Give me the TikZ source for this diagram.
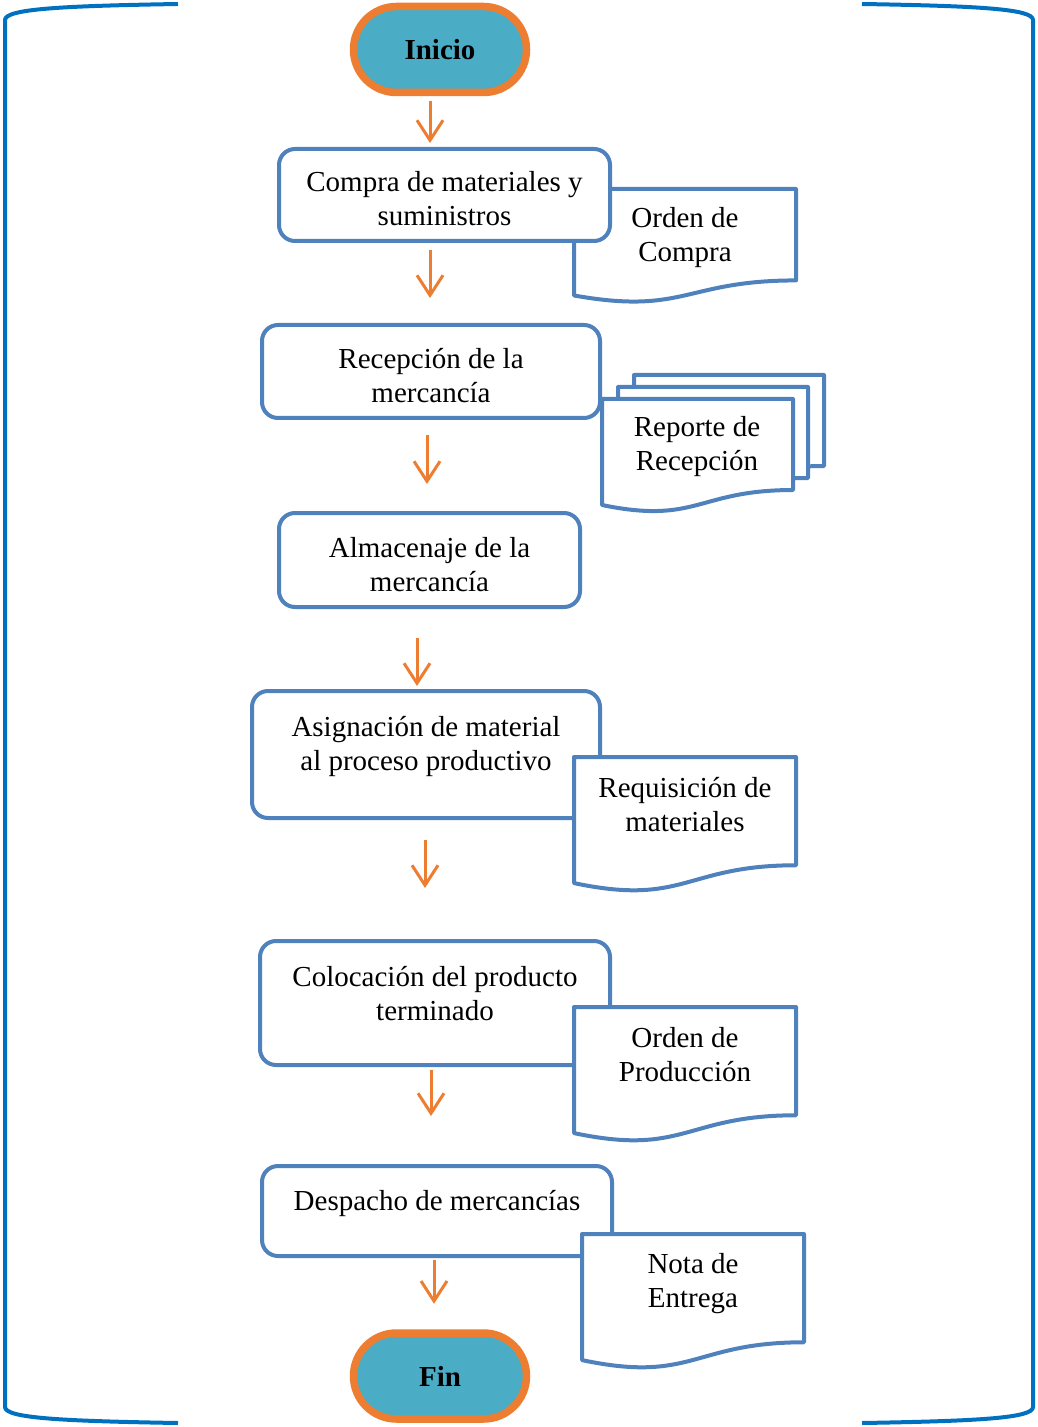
\documentclass[tikz,border=0pt]{standalone}
\usepackage{fontspec}
\setmainfont{Liberation Serif}
\usetikzlibrary{arrows.meta,calc,shadows}
\definecolor{LineClr}{HTML}{4F81BD}
\definecolor{ArrowClr}{HTML}{ED7D31}
\definecolor{TermClr}{HTML}{4BACC6}
\definecolor{BraceClr}{HTML}{0070C0}

% document symbol: left, top, width, height
\newcommand{\documento}[4]{%
  \filldraw[docline] (#1,#2) -- ({#1+#3},#2) -- ({#1+#3},{#2+0.802*#4})
    .. controls ({#1+0.5*#3},{#2+0.802*#4}) and ({#1+0.5*#3},{#2+1.1075*#4}) .. (#1,{#2+0.934*#4}) -- cycle;}

\begin{document}
\begin{tikzpicture}[x=0.5pt,y=-0.5pt,
  every node/.style={font=\fontsize{14.5}{17}\selectfont,align=center},
  proceso/.style={draw=LineClr,line width=2pt,fill=white,rounded corners=8pt},
  terminal/.style={draw=ArrowClr,line width=3.75pt,fill=TermClr,rounded corners=21.5pt,
    minimum width=86.5pt,minimum height=43pt,font=\fontsize{14.5}{17}\selectfont\bfseries,
    drop shadow={opacity=0.2,shadow xshift=1pt,shadow yshift=-1.5pt}},
  docline/.style={draw=LineClr,line width=2pt,fill=white,line join=round},
  flecha/.style={draw=ArrowClr,line width=1.5pt,-{Straight Barb[length=10pt,width=13pt,line width=1.5pt]}},
  llave/.style={draw=BraceClr,line width=2pt}]
\useasboundingbox (0,0) rectangle (1037,1427);

% brackets
\draw[llave] (178,4) .. controls (60,6) and (5,9) .. (5,20) -- (5,1407)
  .. controls (5,1418) and (60,1421) .. (178,1423);
\draw[llave] (862,4) .. controls (980,6) and (1033,9) .. (1033,20) -- (1033,1407)
  .. controls (1033,1418) and (980,1421) .. (862,1423);

\node[terminal] (inicio) at (440,49.5) {Inicio};
\node[terminal] (fin) at (440,1376) {Fin};

% compra
\documento{574}{189}{222}{114}
\node[proceso,minimum width=165.5pt,minimum height=46pt,text height=31pt,text depth=0pt] (compra) at (444.5,195) {Compra de materiales y\\suministros};
\node (ordenc) at (685,238) {Orden de\\Compra};

% recepcion
\node[proceso,minimum width=169pt,minimum height=46.5pt,text height=31pt,text depth=0pt] (recep) at (431,371.5) {Recepción de la\\mercancía};
\documento{634}{375}{190}{113.5}
\documento{618}{387}{190}{113.5}
\documento{602}{399}{191}{113.5}
\node (reporte) at (697,447) {Reporte de\\Recepción};

% almacenaje
\node[proceso,minimum width=150.5pt,minimum height=47pt,text height=31pt,text depth=0pt] (almac) at (429.5,560) {Almacenaje de la\\mercancía};

% asignacion
\node[proceso,minimum width=174pt,minimum height=63.5pt,text depth=11.5pt] (asign) at (426,754.5) {Asignación de material\\al proceso productivo};
\documento{574}{757}{222}{135}
\node (requis) at (685,805) {Requisición de\\materiales};

% colocacion
\node[proceso,minimum width=175pt,minimum height=62pt,text depth=10pt] (coloc) at (435,1003) {Colocación del producto\\terminado};
\documento{574}{1007}{222}{135}
\node (ordenp) at (685,1055) {Orden de\\Producción};

% despacho
\node[proceso,minimum width=175pt,minimum height=45pt,text depth=11pt] (desp) at (437,1211) {Despacho de mercancías};
\documento{582}{1234}{222}{135}
\node (nota) at (693,1284) {Nota de\\Entrega};

% arrows
\draw[flecha,shorten <=2.25pt,shorten >=2pt] ([xshift=-5pt]inicio.south) -- ([xshift=-5pt]inicio.south |- compra.north);
\draw[flecha,shorten <=3.5pt,shorten >=12.5pt] ([xshift=-7.25pt]compra.south) -- ([xshift=-7.25pt]compra.south |- recep.north);
\draw[flecha,shorten <=7.5pt,shorten >=13.5pt] ([xshift=-2pt]recep.south) -- ([xshift=-2pt]recep.south |- almac.north);
\draw[flecha,shorten <=14.5pt,shorten >=1.5pt] ([xshift=-6.25pt]almac.south) -- ([xshift=-6.25pt]almac.south |- asign.north);
\draw[flecha,shorten <=10pt,shorten >=25.5pt] ([xshift=-0.5pt]asign.south) -- ([xshift=-0.5pt]asign.south |- coloc.north);
\draw[flecha,shorten <=1.5pt,shorten >=24pt] ([xshift=-2pt]coloc.south) -- ([xshift=-2pt]coloc.south |- desp.north);
\draw[flecha,shorten <=1pt,shorten >=12.75pt] ([xshift=-1.5pt]desp.south) -- ([xshift=-1.5pt]desp.south |- fin.north);

\end{tikzpicture}
\end{document}
